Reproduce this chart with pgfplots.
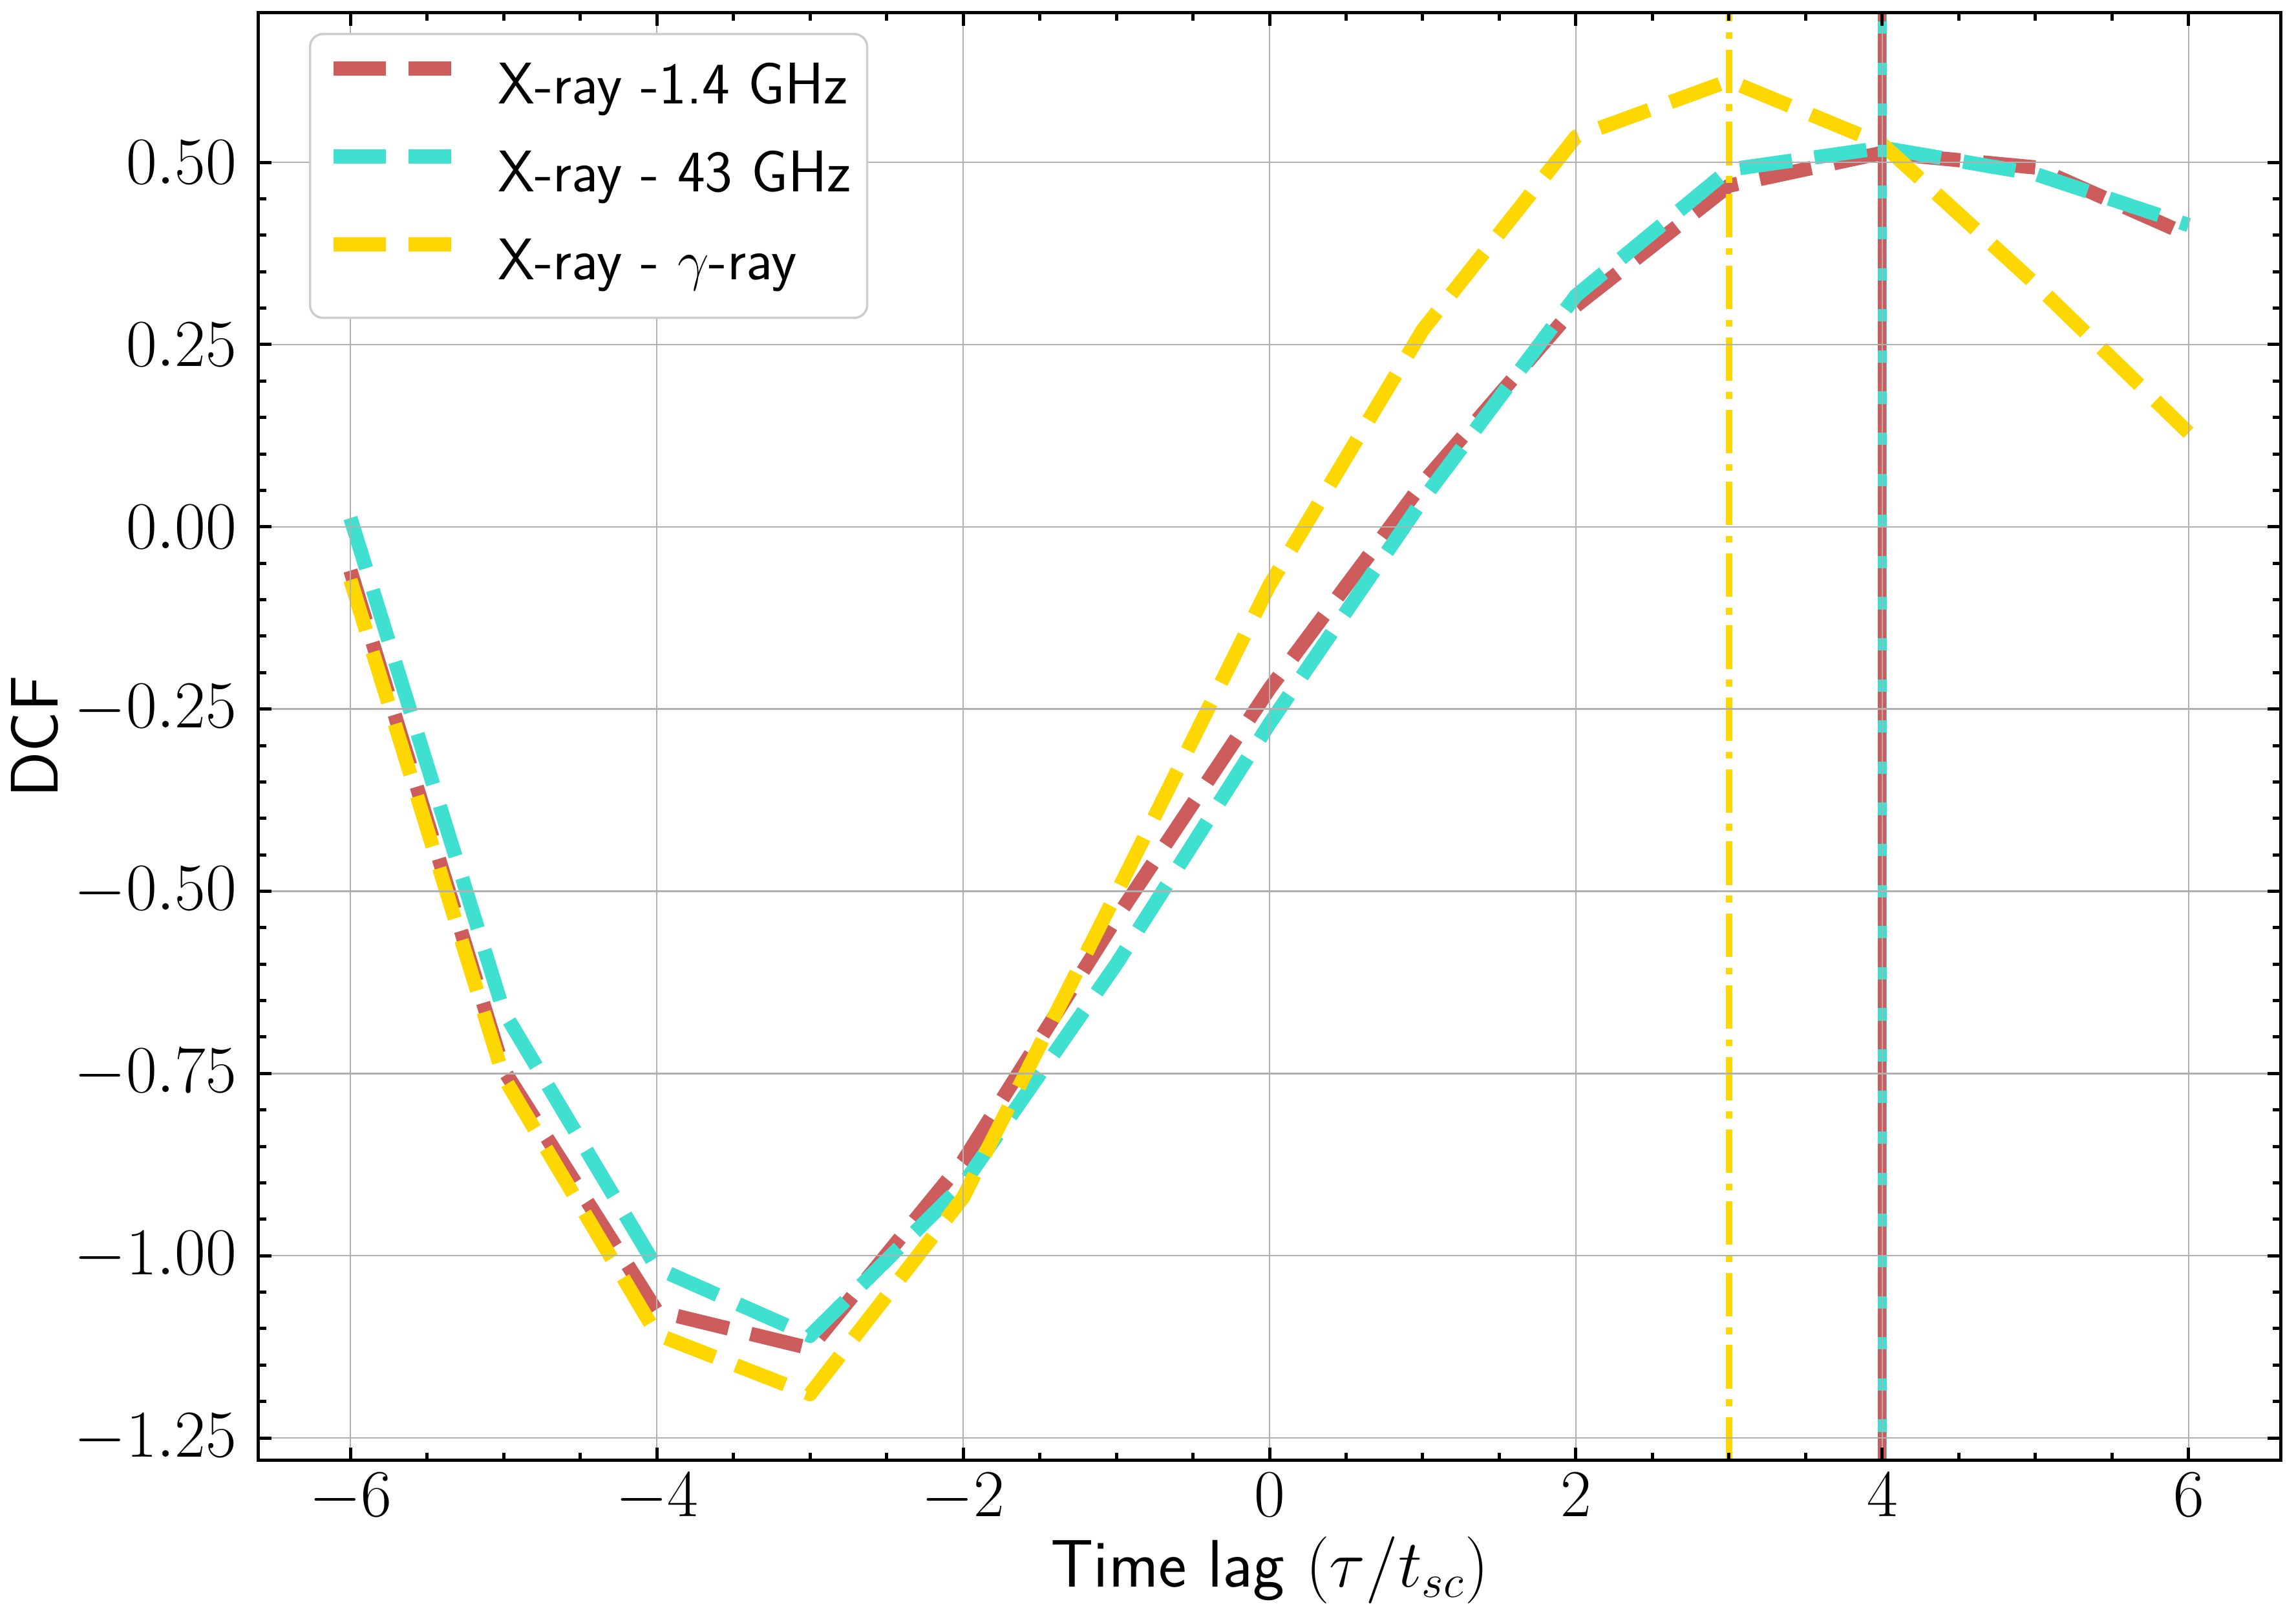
\documentclass[border=0pt]{standalone}
\usepackage{pgfplots}
\pgfplotsset{compat=1.18}
\definecolor{cred}{HTML}{CD5C5C}
\definecolor{ccyan}{HTML}{40E0D0}
\definecolor{cgold}{HTML}{FFD700}
\definecolor{cgrid}{HTML}{B0B0B0}
\definecolor{cleg}{HTML}{CCCCCC}
\begin{document}
\begin{tikzpicture}
\begin{axis}[
  set layers=axis on top,
  scale only axis, width=625.6pt, height=447.8pt,
  at={(0,0)}, anchor=south west,
  xmin=-6.6, xmax=6.6, ymin=-1.281, ymax=0.705,
  xtick={-6,-4,-2,0,2,4,6}, minor x tick num=3,
  ytick={-1.25,-1,-0.75,-0.5,-0.25,0,0.25,0.5}, minor y tick num=4,
  grid=major,
  grid style={color=cgrid, line width=0.5pt, /pgfplots/on layer=axis background},
  axis line style={line width=1pt},
  tick style={black, line width=1pt},
  major tick length=4pt, minor tick length=2.4pt,
  tick label style={font=\fontsize{21.5}{25}\selectfont},
  y tick label style={/pgf/number format/fixed, /pgf/number format/fixed zerofill, /pgf/number format/precision=2, inner sep=0pt, xshift=-6.6pt},
  x tick label style={inner sep=0pt, yshift=-3.8pt},
  xlabel={Time lag $(\tau/t_{sc})$},
  xlabel style={at={(axis description cs:0.5,-0.0875)}, anchor=base, font=\sffamily\fontsize{20.8}{25}\selectfont, inner sep=0pt},
  ylabel={DCF},
  ylabel style={at={(axis description cs:-0.0994,0.5)}, anchor=base, font=\sffamily\fontsize{20.8}{25}\selectfont, inner sep=0pt},
  legend style={at={(axis description cs:0.0249,0.9862)}, anchor=north west, draw=cleg, line width=0.7pt, fill=white, rounded corners=4pt, inner xsep=5pt, inner ysep=7.8pt, row sep=9.4pt, column sep=12.3pt, font=\sffamily\fontsize{18.2}{21}\selectfont, nodes={inner sep=0pt, text height=13.8pt, text depth=4pt}},
  legend cell align=left,
  legend image code/.code={\draw[#1] (0pt,6pt) -- (36.4pt,6pt);},
]
\addplot[cred, line width=4.4pt, dash pattern=on 16.28pt off 7.04pt, line join=round] coordinates {
(-6,-0.060) (-5,-0.745) (-4,-1.076) (-3,-1.127) (-2,-0.870) (-1,-0.537) (0,-0.222) (1,0.060) (2,0.303) (3,0.468) (4,0.513) (5,0.493) (6,0.400)};
\addlegendentry{X-ray -1.4 GHz}
\addplot[ccyan, line width=4.4pt, dash pattern=on 16.28pt off 7.04pt, line join=round] coordinates {
(-6,0.012) (-5,-0.665) (-4,-1.017) (-3,-1.110) (-2,-0.902) (-1,-0.600) (0,-0.270) (1,0.037) (2,0.317) (3,0.490) (4,0.520) (5,0.484) (6,0.414)};
\addlegendentry{X-ray - 43 GHz}
\addplot[cgold, line width=4.4pt, dash pattern=on 16.28pt off 7.04pt, line join=round] coordinates {
(-6,-0.073) (-5,-0.755) (-4,-1.108) (-3,-1.190) (-2,-0.920) (-1,-0.503) (0,-0.080) (1,0.270) (2,0.535) (3,0.612) (4,0.525) (5,0.333) (6,0.129)};
\addlegendentry{X-ray - $\gamma$-ray}
\addplot[cgold, line width=2.1pt, dash pattern=on 13.44pt off 3.36pt on 2.1pt off 3.36pt, forget plot] coordinates {(3,-1.281) (3,0.705)};
\addplot[ccyan, line width=2.7pt, forget plot] coordinates {(4,-1.281) (4,0.705)};
\addplot[cred, line width=2.6pt, dash pattern=on 8.88pt off 3.84pt, forget plot] coordinates {(4,-1.281) (4,0.705)};
\end{axis}
\path (-80pt,-48.4pt) rectangle (630.4pt,451.8pt);
\end{tikzpicture}
\end{document}
